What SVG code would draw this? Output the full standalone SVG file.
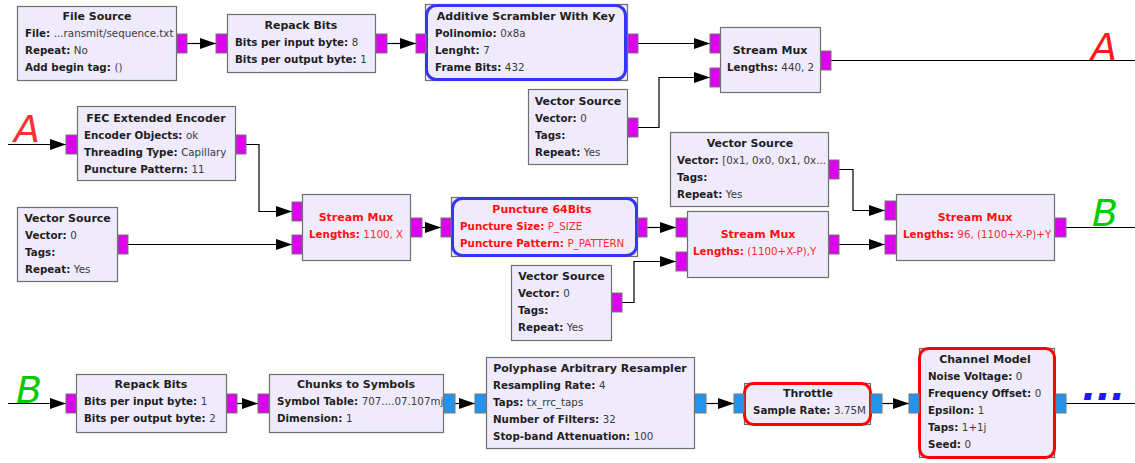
<svg xmlns="http://www.w3.org/2000/svg" width="1135" height="463" viewBox="0 0 1135 463">
<style>
.box{fill:#efebfc;stroke:#6e6e6e;stroke-width:1.2}
.pm{fill:#dd00ee;stroke:#777;stroke-width:1}
.pb{fill:#2394ee;stroke:#777;stroke-width:1}
.hb{fill:none;stroke:#3535f5;stroke-width:3}
.hr{fill:none;stroke:#ff0000;stroke-width:3}
text{font-family:"DejaVu Sans","Noto Sans",sans-serif;font-size:10.3px;fill:#2a2a2a}
.t{font-weight:bold;text-anchor:middle;fill:#1e1e1e;font-size:11px}
.k{font-weight:bold;fill:#1e1e1e}
.r,.r .k,.r.t{fill:#ff1010}
.v{fill:#3a3a3a}
.r .v{fill:#ff2a2a}
.conn path{fill:none;stroke:#000;stroke-width:1.2;marker-end:url(#ah)}
.conn line{stroke:#000;stroke-width:1.2}
.big{font-family:"DejaVu Sans","Liberation Sans",sans-serif;font-style:italic;font-size:38px}
</style>
<defs>
<marker id="ah" markerUnits="userSpaceOnUse" markerWidth="16" markerHeight="12" refX="16" refY="6" orient="auto">
<path d="M0,0.5 L16,6 L0,11.5 z" fill="#000"/>
</marker>
</defs>

<g id="connectors" class="conn">
<path d="M187,43.5 H216"/>
<path d="M387,43.5 H416"/>
<path d="M638,43.5 H710"/>
<path d="M638,127.5 H659 V77.5 H710"/>
<line x1="831" y1="60.5" x2="1135" y2="60.5"/>
<path d="M8,144.5 H66"/>
<path d="M246,144.5 H259 V211.5 H292"/>
<path d="M128,244.5 H292"/>
<path d="M422,227.5 H441"/>
<path d="M647,227.5 H676"/>
<path d="M622,302.5 H634 V261.5 H676"/>
<path d="M839,169.5 H853 V210.5 H885"/>
<path d="M839,244.5 H885"/>
<line x1="1066" y1="227.5" x2="1135" y2="227.5"/>
<path d="M8,403.5 H66"/>
<path d="M237,403.5 H258"/>
<path d="M455,403.5 H475"/>
<path d="M706,403.5 H734"/>
<path d="M882,403.5 H909"/>
<line x1="1066" y1="403.5" x2="1135" y2="403.5"/>
</g>

<g id="labelA1"><text class="big" x="1091" y="60" style="fill:#ff1a1a">A</text></g>
<g id="labelA2"><text class="big" x="14" y="142" style="fill:#ff3030">A</text></g>
<g id="labelB1"><text class="big" x="1092" y="226" style="fill:#00cc00">B</text></g>
<g id="labelB2"><text class="big" x="16" y="403" style="fill:#00cc00">B</text></g>
<g id="dots"><text x="1082" y="400" style="font-family:'DejaVu Sans',sans-serif;font-size:38px;font-weight:bold;font-style:italic;fill:#1a1aff">...</text></g>

<g id="file_source">
<rect class="box" x="17.5" y="6.5" width="159" height="74"/>
<rect class="pm" x="177" y="34" width="10" height="19"/>
<text class="t" x="97" y="20">File Source</text>
<text x="25" y="37"><tspan class="k">File: </tspan><tspan class="v">...ransmit/sequence.txt</tspan></text>
<text x="25" y="54"><tspan class="k">Repeat: </tspan><tspan class="v">No</tspan></text>
<text x="25" y="71"><tspan class="k">Add begin tag: </tspan><tspan class="v">()</tspan></text>
</g>

<g id="repack_bits_1">
<rect class="box" x="227.5" y="14.5" width="148" height="58"/>
<rect class="pm" x="216" y="34" width="11" height="19"/>
<rect class="pm" x="376" y="34" width="11" height="19"/>
<text class="t" x="301" y="29">Repack Bits</text>
<text x="235" y="46"><tspan class="k">Bits per input byte: </tspan><tspan class="v">8</tspan></text>
<text x="235" y="63"><tspan class="k">Bits per output byte: </tspan><tspan class="v">1</tspan></text>
</g>

<g id="scrambler">
<rect class="box" x="425.5" y="4.5" width="202" height="76"/>
<rect class="hb" x="426.5" y="5.5" width="199" height="74" rx="10"/>
<rect class="pm" x="416" y="34" width="10" height="19"/>
<rect class="pm" x="628" y="34" width="10" height="19"/>
<text class="t" x="526" y="20">Additive Scrambler With Key</text>
<text x="435" y="37"><tspan class="k">Polinomio: </tspan><tspan class="v">0x8a</tspan></text>
<text x="435" y="54"><tspan class="k">Lenght: </tspan><tspan class="v">7</tspan></text>
<text x="435" y="71"><tspan class="k">Frame Bits: </tspan><tspan class="v">432</tspan></text>
</g>

<g id="stream_mux_1">
<rect class="box" x="720.5" y="27.5" width="100" height="65"/>
<rect class="pm" x="710" y="34" width="10" height="19"/>
<rect class="pm" x="710" y="68" width="10" height="19"/>
<rect class="pm" x="821" y="51" width="10" height="19"/>
<text class="t" x="770" y="54">Stream Mux</text>
<text x="727" y="71"><tspan class="k">Lengths: </tspan><tspan class="v">440, 2</tspan></text>
</g>

<g id="vector_source_1">
<rect class="box" x="528.5" y="89.5" width="99" height="75"/>
<rect class="pm" x="628" y="118" width="10" height="19"/>
<text class="t" x="578" y="105">Vector Source</text>
<text x="535" y="122"><tspan class="k">Vector: </tspan><tspan class="v">0</tspan></text>
<text x="535" y="139"><tspan class="k">Tags:</tspan></text>
<text x="535" y="156"><tspan class="k">Repeat: </tspan><tspan class="v">Yes</tspan></text>
</g>

<g id="fec_encoder">
<rect class="box" x="77.5" y="106.5" width="158" height="74"/>
<rect class="pm" x="66" y="135" width="11" height="19"/>
<rect class="pm" x="236" y="135" width="10" height="19"/>
<text class="t" x="156" y="122">FEC Extended Encoder</text>
<text x="84" y="139"><tspan class="k">Encoder Objects: </tspan><tspan class="v">ok</tspan></text>
<text x="84" y="156"><tspan class="k">Threading Type: </tspan><tspan class="v">Capillary</tspan></text>
<text x="84" y="173"><tspan class="k">Puncture Pattern: </tspan><tspan class="v">11</tspan></text>
</g>

<g id="vector_source_2">
<rect class="box" x="17.5" y="207.5" width="100" height="74"/>
<rect class="pm" x="118" y="235" width="10" height="19"/>
<text class="t" x="67.5" y="222">Vector Source</text>
<text x="25" y="239"><tspan class="k">Vector: </tspan><tspan class="v">0</tspan></text>
<text x="25" y="256"><tspan class="k">Tags:</tspan></text>
<text x="25" y="273"><tspan class="k">Repeat: </tspan><tspan class="v">Yes</tspan></text>
</g>

<g id="stream_mux_2" class="r">
<rect class="box" x="302.5" y="194.5" width="108" height="66"/>
<rect class="pm" x="292" y="202" width="10" height="19"/>
<rect class="pm" x="292" y="235" width="10" height="19"/>
<rect class="pm" x="411" y="218" width="11" height="19"/>
<text class="t r" x="356" y="221">Stream Mux</text>
<text x="309" y="238"><tspan class="k">Lengths: </tspan><tspan class="v">1100, X</tspan></text>
</g>

<g id="puncture" class="r">
<rect class="box" x="451.5" y="197.5" width="186" height="59"/>
<rect class="hb" x="452.5" y="198.5" width="184" height="57" rx="10"/>
<rect class="pm" x="441" y="218" width="10" height="19"/>
<rect class="pm" x="638" y="218" width="9" height="19"/>
<text class="t r" x="542" y="213">Puncture 64Bits</text>
<text x="460" y="230"><tspan class="k">Puncture Size: </tspan><tspan class="v">P_SIZE</tspan></text>
<text x="460" y="247"><tspan class="k">Puncture Pattern: </tspan><tspan class="v">P_PATTERN</tspan></text>
</g>

<g id="vector_source_3">
<rect class="box" x="511.5" y="265.5" width="100" height="75"/>
<rect class="pm" x="612" y="293" width="10" height="19"/>
<text class="t" x="561.5" y="280">Vector Source</text>
<text x="518" y="297"><tspan class="k">Vector: </tspan><tspan class="v">0</tspan></text>
<text x="518" y="314"><tspan class="k">Tags:</tspan></text>
<text x="518" y="331"><tspan class="k">Repeat: </tspan><tspan class="v">Yes</tspan></text>
</g>

<g id="stream_mux_3" class="r">
<rect class="box" x="687.5" y="211.5" width="141" height="66"/>
<rect class="pm" x="676" y="218" width="11" height="19"/>
<rect class="pm" x="676" y="252" width="11" height="19"/>
<rect class="pm" x="829" y="235" width="10" height="19"/>
<text class="t r" x="758" y="238">Stream Mux</text>
<text x="693" y="255"><tspan class="k">Lengths: </tspan><tspan class="v">(1100+X-P),Y</tspan></text>
</g>

<g id="vector_source_4">
<rect class="box" x="670.5" y="132.5" width="158" height="74"/>
<rect class="pm" x="829" y="160" width="10" height="19"/>
<text class="t" x="750" y="147">Vector Source</text>
<text x="677" y="164"><tspan class="k">Vector: </tspan><tspan class="v">[0x1, 0x0, 0x1, 0x...</tspan></text>
<text x="677" y="181"><tspan class="k">Tags:</tspan></text>
<text x="677" y="198"><tspan class="k">Repeat: </tspan><tspan class="v">Yes</tspan></text>
</g>

<g id="stream_mux_4" class="r">
<rect class="box" x="896.5" y="194.5" width="158" height="66"/>
<rect class="pm" x="885" y="201" width="11" height="19"/>
<rect class="pm" x="885" y="235" width="11" height="19"/>
<rect class="pm" x="1055" y="218" width="11" height="19"/>
<text class="t r" x="975" y="221">Stream Mux</text>
<text x="903" y="238"><tspan class="k">Lengths: </tspan><tspan class="v">96, (1100+X-P)+Y</tspan></text>
</g>

<g id="repack_bits_2">
<rect class="box" x="76.5" y="374.5" width="150" height="58"/>
<rect class="pm" x="66" y="394" width="10" height="19"/>
<rect class="pm" x="227" y="394" width="10" height="19"/>
<text class="t" x="151" y="388">Repack Bits</text>
<text x="84" y="405"><tspan class="k">Bits per input byte: </tspan><tspan class="v">1</tspan></text>
<text x="84" y="422"><tspan class="k">Bits per output byte: </tspan><tspan class="v">2</tspan></text>
</g>

<g id="chunks_to_symbols">
<rect class="box" x="269.5" y="374.5" width="174" height="58"/>
<rect class="pm" x="258" y="394" width="11" height="19"/>
<rect class="pb" x="444" y="394" width="11" height="19"/>
<text class="t" x="356" y="388">Chunks to Symbols</text>
<text x="277" y="405"><tspan class="k">Symbol Table: </tspan><tspan class="v">707....07.107mj</tspan></text>
<text x="277" y="422"><tspan class="k">Dimension: </tspan><tspan class="v">1</tspan></text>
</g>

<g id="resampler">
<rect class="box" x="486.5" y="357.5" width="208" height="91"/>
<rect class="pb" x="475" y="394" width="11" height="19"/>
<rect class="pb" x="695" y="394" width="11" height="19"/>
<text class="t" x="590" y="372">Polyphase Arbitrary Resampler</text>
<text x="493" y="389"><tspan class="k">Resampling Rate: </tspan><tspan class="v">4</tspan></text>
<text x="493" y="406"><tspan class="k">Taps: </tspan><tspan class="v">tx_rrc_taps</tspan></text>
<text x="493" y="423"><tspan class="k">Number of Filters: </tspan><tspan class="v">32</tspan></text>
<text x="493" y="440"><tspan class="k">Stop-band Attenuation: </tspan><tspan class="v">100</tspan></text>
</g>

<g id="throttle">
<rect class="box" x="744.5" y="383.5" width="126" height="41"/>
<rect class="hr" x="744.5" y="383.5" width="126" height="41" rx="9"/>
<rect class="pb" x="734" y="394" width="10" height="19"/>
<rect class="pb" x="871" y="394" width="11" height="19"/>
<text class="t" x="808" y="397">Throttle</text>
<text x="753" y="414"><tspan class="k">Sample Rate: </tspan><tspan class="v">3.75M</tspan></text>
</g>

<g id="channel_model">
<rect class="box" x="919.5" y="348.5" width="135" height="109"/>
<rect class="hr" x="919.5" y="348.5" width="135" height="109" rx="9"/>
<rect class="pb" x="909" y="394" width="10" height="19"/>
<rect class="pb" x="1056" y="394" width="10" height="19"/>
<text class="t" x="985" y="363">Channel Model</text>
<text x="928" y="380"><tspan class="k">Noise Voltage: </tspan><tspan class="v">0</tspan></text>
<text x="928" y="397"><tspan class="k">Frequency Offset: </tspan><tspan class="v">0</tspan></text>
<text x="928" y="414"><tspan class="k">Epsilon: </tspan><tspan class="v">1</tspan></text>
<text x="928" y="431"><tspan class="k">Taps: </tspan><tspan class="v">1+1j</tspan></text>
<text x="928" y="448"><tspan class="k">Seed: </tspan><tspan class="v">0</tspan></text>
</g>
</svg>
